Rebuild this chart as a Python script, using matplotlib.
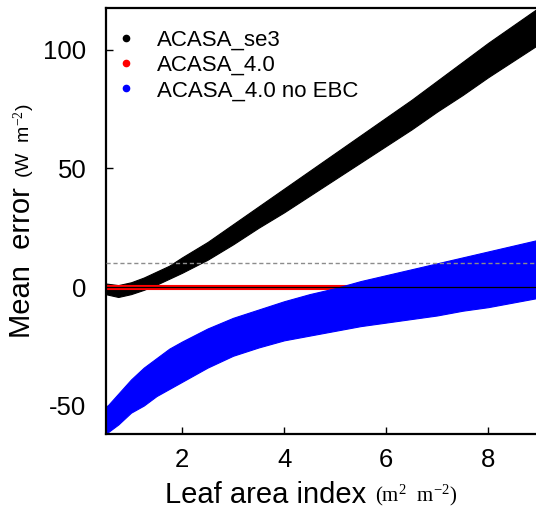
import matplotlib
matplotlib.use("Agg")
import matplotlib.pyplot as plt
from matplotlib.lines import Line2D

# Leaf area index grid at which the point-cloud envelopes were read
lai = [0.5, 0.75, 1.0, 1.25, 1.5, 1.75, 2.0, 2.5, 3.0, 3.5, 4.0, 4.5,
       5.0, 5.5, 6.0, 6.5, 7.0, 7.5, 8.0, 8.5, 9.0]

# ACASA_se3 (black) lower / upper edge of the cloud, W m-2
se3_lo = [-3.0, -4.2, -3.0, -1.2, 1.0, 3.5, 6.0, 11.5, 18.0, 25.0, 31.5, 38.5,
          45.5, 52.5, 59.5, 66.5, 74.0, 81.0, 88.5, 95.5, 102.5]
se3_hi = [1.5, 0.8, 2.0, 4.0, 6.5, 9.0, 12.5, 19.0, 26.5, 34.0, 41.5, 49.0,
          56.5, 64.0, 71.5, 79.0, 87.0, 95.0, 103.0, 110.5, 118.0]

# ACASA_4.0 (red), closed energy balance -> hugs zero
v40_lo = [-1.0] * len(lai)
v40_hi = [1.0] * len(lai)

# ACASA_4.0 no EBC (blue)
noebc_lo = [-62.0, -58.0, -53.0, -50.0, -46.0, -43.0, -40.0, -34.0, -29.0, -25.5,
            -22.5, -20.5, -18.5, -16.5, -15.0, -13.5, -12.0, -10.0, -8.5, -6.5, -4.5]
noebc_hi = [-51.0, -45.0, -39.0, -34.0, -30.0, -26.0, -23.0, -17.5, -13.0, -9.5,
            -6.0, -3.0, -0.5, 2.5, 5.0, 7.5, 10.0, 12.5, 15.0, 17.5, 20.0]

series_names = ["ACASA_se3", "ACASA_4.0", "ACASA_4.0 no EBC"]
series_colors = ["black", "#ff0000", "#0000ff"]

xticks = [2, 4, 6, 8]
yticks = [-50, 0, 50, 100]
ref_level = 10

plt.rcParams.update({
    "font.family": "Liberation Sans",
    "axes.unicode_minus": False,
    "mathtext.fontset": "custom",
    "mathtext.rm": "Liberation Serif",
    "mathtext.it": "Liberation Serif:italic",
})

fig = plt.figure(figsize=(5.36, 5.20), dpi=100)
ax = fig.add_axes([0.1978, 0.1654, 0.81, 0.8192])

bands = [(se3_lo, se3_hi), (v40_lo, v40_hi), (noebc_lo, noebc_hi)]
for (lo, hi), c in zip(bands, series_colors):
    ax.fill_between(lai, lo, hi, color=c, linewidth=0.8, edgecolor=c, zorder=2)

ax.axhline(0, color="black", linewidth=0.9, zorder=4)
ax.axhline(ref_level, color="#8c8c8c", linestyle=(0, (3, 2)), linewidth=1.0, zorder=5)

ax.set_xlim(0.51, 9.02)
ax.set_ylim(-62.0, 117.7)
ax.set_xticks(xticks)
ax.set_yticks(yticks)
ax.tick_params(direction="in", length=5, width=1, labelsize=18.5)
ax.tick_params(axis="x", pad=10)
ax.tick_params(axis="y", pad=14)
for side in ["left", "top", "bottom"]:
    ax.spines[side].set_linewidth(1.6)
ax.spines["right"].set_visible(False)

handles = [Line2D([], [], linestyle="none", marker="o", markersize=4.5,
                  color=c) for c in series_colors]
ax.legend(handles, series_names, loc="upper left", bbox_to_anchor=(0.02, 0.95),
          frameon=False, fontsize=16, handlelength=1.0, handletextpad=0.9,
          labelspacing=0.2, borderpad=0, borderaxespad=0)

# axis titles: big words plus smaller unit part
fig.text(266 / 536, 1 - 495 / 520, "Leaf area index", fontsize=21,
         ha="center", va="center")
fig.text(416 / 536, 1 - 495 / 520, r"(m$^{2}$  m$^{-2}$)", fontsize=15,
         family="Liberation Serif", ha="center", va="center")
fig.text(22 / 536, 1 - 263 / 520, "Mean  error", fontsize=21, rotation=90,
         ha="center", va="center")
fig.text(24 / 536, 1 - 141 / 520, r"(W  m$^{-2}$)", fontsize=14, rotation=90,
         ha="center", va="center")

fig.savefig("out.png", dpi=100)
